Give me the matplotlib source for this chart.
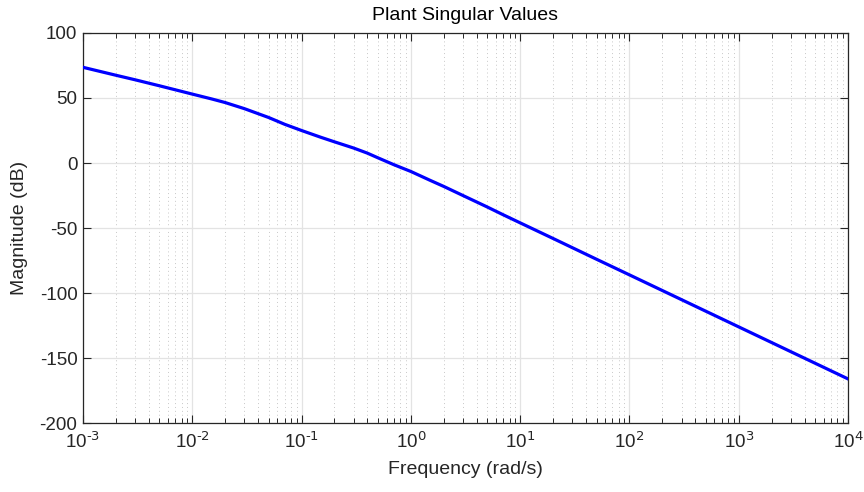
import matplotlib
matplotlib.use("Agg")
import matplotlib.pyplot as plt
from matplotlib.ticker import LogLocator, FixedLocator, FixedFormatter

# Data
freq = [1e-3, 2e-3, 3e-3, 5e-3, 7e-3, 1e-2, 1.5e-2, 2e-2, 3e-2, 5e-2, 7e-2,
        0.1, 0.15, 0.2, 0.3, 0.4, 0.5, 0.7, 1.0, 1.5, 2.0, 3.0, 5.0, 7.0,
        10.0, 20.0, 50.0, 100.0, 1000.0, 1e4]
mag_db = [73.6, 67.5, 64.0, 59.4, 56.3, 53.0, 49.3, 46.5, 41.8, 35.0, 29.8,
          25.0, 19.8, 16.3, 11.5, 7.6, 4.0, -1.3, -6.5, -13.3, -18.0, -25.0,
          -33.8, -39.8, -46.0, -58.0, -74.0, -86.0, -126.0, -166.0]

xtick_exps = [-3, -2, -1, 0, 1, 2, 3, 4]
yticks = [-200, -150, -100, -50, 0, 50, 100]
title = "Plant Singular Values"
xlabel = "Frequency (rad/s)"
ylabel = "Magnitude (dB)"

plt.rcParams['font.family'] = ['Liberation Sans', 'DejaVu Sans']
plt.rcParams['mathtext.default'] = 'regular'
plt.rcParams['axes.unicode_minus'] = False

txt = '#262626'
fig = plt.figure(figsize=(8.64, 4.92), dpi=100)
ax = fig.add_axes([0.096, 0.140, 0.8855, 0.793])

ax.semilogx(freq, mag_db, color=(0, 0, 1), lw=2.3, zorder=3)

ax.set_xlim(1e-3, 1e4)
ax.set_ylim(-200, 100)
ax.yaxis.set_major_locator(FixedLocator(yticks))
ax.xaxis.set_major_locator(FixedLocator([10.0 ** e for e in xtick_exps]))
ax.xaxis.set_major_formatter(FixedFormatter(
    [r'$10^{\text{%d}}$' % e for e in xtick_exps]))
ax.xaxis.set_minor_locator(LogLocator(base=10, subs=range(2, 10), numticks=100))

ax.grid(True, which='major', color='#e3e3e3', lw=0.9, ls='-')
ax.grid(True, which='minor', axis='x', color='#c8c8c8', lw=0.7, ls=(0, (1, 3)))
ax.set_axisbelow(True)

ax.tick_params(which='both', direction='in', top=True, right=True, colors=txt,
               labelsize=13.5)
ax.tick_params(which='major', length=6, width=0.8)
ax.tick_params(which='minor', length=3.5, width=0.7)
ax.tick_params(axis='x', pad=6)
ax.tick_params(axis='y', pad=4)
for s in ax.spines.values():
    s.set_color(txt)
    s.set_linewidth(0.9)

ax.set_title(title, fontsize=14, color='black', pad=9)
ax.set_xlabel(xlabel, fontsize=14, color=txt, labelpad=6)
ax.set_ylabel(ylabel, fontsize=14, color=txt, labelpad=8)

fig.savefig("out.png", dpi=100, facecolor='white')
